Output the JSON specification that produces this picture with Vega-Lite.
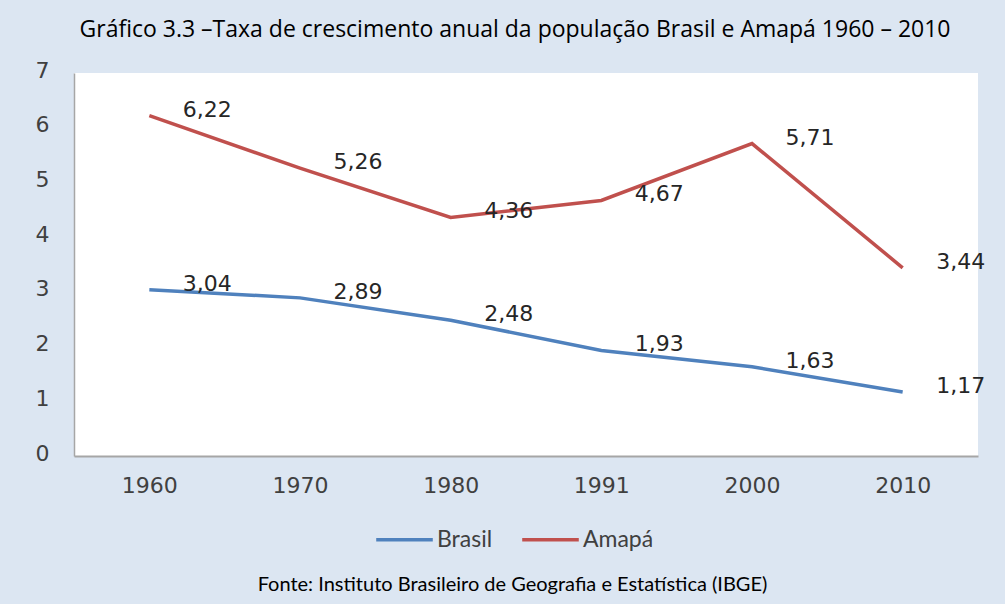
{
  "$schema": "https://vega.github.io/schema/vega-lite/v6.json",
  "autosize": "none",
  "width": 904,
  "height": 383,
  "padding": {"left": 74, "top": 73, "right": 27, "bottom": 148},
  "background": "#dce6f2",
  "title": {
    "text": "Gráfico 3.3 –Taxa de crescimento anual da população Brasil e Amapá 1960 – 2010",
    "font": "Open Sans",
    "fontSize": 23,
    "fontWeight": "normal",
    "color": "#000000",
    "anchor": "middle",
    "frame": "group",
    "offset": 17,
    "dx": -11
  },
  "config": {
    "locale": {"number": {"decimal": ",", "thousands": ".", "grouping": [3], "currency": ["R$", ""]}},
    "view": {"fill": "#ffffff", "stroke": null}
  },
  "data": {
    "values": [
      {"ano": "1960", "serie": "Brasil", "taxa": 3.04},
      {"ano": "1970", "serie": "Brasil", "taxa": 2.89},
      {"ano": "1980", "serie": "Brasil", "taxa": 2.48},
      {"ano": "1991", "serie": "Brasil", "taxa": 1.93},
      {"ano": "2000", "serie": "Brasil", "taxa": 1.63},
      {"ano": "2010", "serie": "Brasil", "taxa": 1.17},
      {"ano": "1960", "serie": "Amapá", "taxa": 6.22},
      {"ano": "1970", "serie": "Amapá", "taxa": 5.26},
      {"ano": "1980", "serie": "Amapá", "taxa": 4.36},
      {"ano": "1991", "serie": "Amapá", "taxa": 4.67},
      {"ano": "2000", "serie": "Amapá", "taxa": 5.71},
      {"ano": "2010", "serie": "Amapá", "taxa": 3.44}
    ]
  },
  "encoding": {
    "x": {
      "field": "ano",
      "type": "ordinal",
      "sort": null,
      "scale": {"type": "point", "padding": 0.5},
      "axis": {
        "title": "Fonte: Instituto Brasileiro de Geografia e Estatística (IBGE)",
        "titleFont": "Lato",
        "titleFontSize": 20,
        "titleFontWeight": "normal",
        "titleColor": "#000000",
        "titleX": 438,
        "titleY": 128,
        "titleBaseline": "middle",
        "titleAnchor": "middle",
        "labelAngle": 0,
        "labelFont": "DejaVu Sans",
        "labelFontSize": 22,
        "labelColor": "#404040",
        "labelPadding": 19,
        "ticks": false,
        "domainColor": "#a6a6a6",
        "domainWidth": 2,
        "grid": false
      }
    },
    "y": {
      "field": "taxa",
      "type": "quantitative",
      "scale": {"domain": [0, 7], "nice": false},
      "axis": {
        "title": null,
        "values": [0, 1, 2, 3, 4, 5, 6, 7],
        "labelFont": "DejaVu Sans",
        "labelFontSize": 22,
        "labelColor": "#404040",
        "labelPadding": 25,
        "labelOffset": -3,
        "ticks": false,
        "grid": false,
        "domainColor": "#a6a6a6",
        "domainWidth": 1.5
      }
    },
    "color": {
      "field": "serie",
      "type": "nominal",
      "scale": {"domain": ["Brasil", "Amapá"], "range": ["#4f81bd", "#c0504d"]},
      "legend": {
        "title": null,
        "orient": "none",
        "direction": "horizontal",
        "legendX": 300,
        "legendY": 436,
        "padding": 0,
        "symbolType": "stroke",
        "symbolSize": 3200,
        "symbolStrokeWidth": 3.5,
        "labelFont": "Lato",
        "labelFontSize": 23,
        "labelColor": "#404040",
        "labelOffset": 2,
        "columnPadding": 22
      }
    }
  },
  "layer": [
    {
      "mark": {"type": "line", "strokeWidth": 3.5}
    },
    {
      "mark": {"type": "text", "font": "DejaVu Sans", "fontSize": 22, "dx": 58, "dy": -6, "align": "center", "baseline": "middle"},
      "encoding": {
        "text": {"field": "taxa", "type": "quantitative", "format": ".2f"},
        "color": {"value": "#262626"}
      }
    }
  ]
}
